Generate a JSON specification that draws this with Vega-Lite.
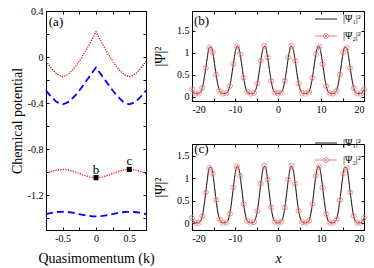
{
"$schema":"https://vega.github.io/schema/vega-lite/v6.json",
"autosize":{"type":"pad"},
"padding":{"left":9,"top":5,"right":0,"bottom":0},
"background":"white",
"config":{
 "font":"Liberation Serif",
 "view":{"stroke":"black","strokeWidth":1},
 "axis":{"grid":false,"domainColor":"black","domainWidth":1,"tickColor":"black","tickWidth":1,"tickSize":-3,"labelPadding":6,"labelColor":"black","labelFontSize":10,"labelFont":"Liberation Serif","titleFont":"Liberation Serif","titleFontSize":14,"titleFontWeight":"normal","titleColor":"black"},
 "legend":{"labelFont":"Liberation Serif","labelFontSize":10,"labelColor":"black"},
 "text":{"font":"Liberation Serif","color":"black"}
},
"datasets":{
"bands":[
{"k":-0.75,"mu":-0.035,"band":"r1"},{"k":-0.7,"mu":-0.075,"band":"r1"},{"k":-0.65,"mu":-0.11,"band":"r1"},{"k":-0.6,"mu":-0.14,"band":"r1"},{"k":-0.55,"mu":-0.16,"band":"r1"},{"k":-0.5,"mu":-0.17,"band":"r1"},{"k":-0.45,"mu":-0.16,"band":"r1"},{"k":-0.4,"mu":-0.14,"band":"r1"},{"k":-0.35,"mu":-0.11,"band":"r1"},{"k":-0.3,"mu":-0.075,"band":"r1"},{"k":-0.25,"mu":-0.035,"band":"r1"},{"k":-0.2,"mu":0.01,"band":"r1"},{"k":-0.15,"mu":0.06,"band":"r1"},{"k":-0.1,"mu":0.11,"band":"r1"},{"k":-0.05,"mu":0.165,"band":"r1"},{"k":0,"mu":0.22,"band":"r1"},{"k":0.05,"mu":0.165,"band":"r1"},{"k":0.1,"mu":0.11,"band":"r1"},{"k":0.15,"mu":0.06,"band":"r1"},{"k":0.2,"mu":0.01,"band":"r1"},{"k":0.25,"mu":-0.035,"band":"r1"},{"k":0.3,"mu":-0.075,"band":"r1"},{"k":0.35,"mu":-0.11,"band":"r1"},{"k":0.4,"mu":-0.14,"band":"r1"},{"k":0.45,"mu":-0.16,"band":"r1"},{"k":0.5,"mu":-0.17,"band":"r1"},{"k":0.55,"mu":-0.16,"band":"r1"},{"k":0.6,"mu":-0.14,"band":"r1"},{"k":0.65,"mu":-0.11,"band":"r1"},{"k":0.7,"mu":-0.075,"band":"r1"},{"k":0.75,"mu":-0.035,"band":"r1"},
{"k":-0.75,"mu":-0.29,"band":"b1"},{"k":-0.7,"mu":-0.325,"band":"b1"},{"k":-0.65,"mu":-0.355,"band":"b1"},{"k":-0.6,"mu":-0.385,"band":"b1"},{"k":-0.55,"mu":-0.4,"band":"b1"},{"k":-0.5,"mu":-0.41,"band":"b1"},{"k":-0.45,"mu":-0.4,"band":"b1"},{"k":-0.4,"mu":-0.385,"band":"b1"},{"k":-0.35,"mu":-0.355,"band":"b1"},{"k":-0.3,"mu":-0.325,"band":"b1"},{"k":-0.25,"mu":-0.29,"band":"b1"},{"k":-0.2,"mu":-0.25,"band":"b1"},{"k":-0.15,"mu":-0.21,"band":"b1"},{"k":-0.1,"mu":-0.17,"band":"b1"},{"k":-0.05,"mu":-0.13,"band":"b1"},{"k":0,"mu":-0.09,"band":"b1"},{"k":0.05,"mu":-0.13,"band":"b1"},{"k":0.1,"mu":-0.17,"band":"b1"},{"k":0.15,"mu":-0.21,"band":"b1"},{"k":0.2,"mu":-0.25,"band":"b1"},{"k":0.25,"mu":-0.29,"band":"b1"},{"k":0.3,"mu":-0.325,"band":"b1"},{"k":0.35,"mu":-0.355,"band":"b1"},{"k":0.4,"mu":-0.385,"band":"b1"},{"k":0.45,"mu":-0.4,"band":"b1"},{"k":0.5,"mu":-0.41,"band":"b1"},{"k":0.55,"mu":-0.4,"band":"b1"},{"k":0.6,"mu":-0.385,"band":"b1"},{"k":0.65,"mu":-0.355,"band":"b1"},{"k":0.7,"mu":-0.325,"band":"b1"},{"k":0.75,"mu":-0.29,"band":"b1"},
{"k":-0.75,"mu":-1.01,"band":"r2"},{"k":-0.7,"mu":-0.999,"band":"r2"},{"k":-0.65,"mu":-0.989,"band":"r2"},{"k":-0.6,"mu":-0.981,"band":"r2"},{"k":-0.55,"mu":-0.976,"band":"r2"},{"k":-0.5,"mu":-0.974,"band":"r2"},{"k":-0.45,"mu":-0.976,"band":"r2"},{"k":-0.4,"mu":-0.981,"band":"r2"},{"k":-0.35,"mu":-0.989,"band":"r2"},{"k":-0.3,"mu":-0.999,"band":"r2"},{"k":-0.25,"mu":-1.01,"band":"r2"},{"k":-0.2,"mu":-1.021,"band":"r2"},{"k":-0.15,"mu":-1.031,"band":"r2"},{"k":-0.1,"mu":-1.039,"band":"r2"},{"k":-0.05,"mu":-1.044,"band":"r2"},{"k":0,"mu":-1.046,"band":"r2"},{"k":0.05,"mu":-1.044,"band":"r2"},{"k":0.1,"mu":-1.039,"band":"r2"},{"k":0.15,"mu":-1.031,"band":"r2"},{"k":0.2,"mu":-1.021,"band":"r2"},{"k":0.25,"mu":-1.01,"band":"r2"},{"k":0.3,"mu":-0.999,"band":"r2"},{"k":0.35,"mu":-0.989,"band":"r2"},{"k":0.4,"mu":-0.981,"band":"r2"},{"k":0.45,"mu":-0.976,"band":"r2"},{"k":0.5,"mu":-0.974,"band":"r2"},{"k":0.55,"mu":-0.976,"band":"r2"},{"k":0.6,"mu":-0.981,"band":"r2"},{"k":0.65,"mu":-0.989,"band":"r2"},{"k":0.7,"mu":-0.999,"band":"r2"},{"k":0.75,"mu":-1.01,"band":"r2"},
{"k":-0.75,"mu":-1.362,"band":"b2"},{"k":-0.7,"mu":-1.356,"band":"b2"},{"k":-0.65,"mu":-1.35,"band":"b2"},{"k":-0.6,"mu":-1.346,"band":"b2"},{"k":-0.55,"mu":-1.343,"band":"b2"},{"k":-0.5,"mu":-1.342,"band":"b2"},{"k":-0.45,"mu":-1.343,"band":"b2"},{"k":-0.4,"mu":-1.346,"band":"b2"},{"k":-0.35,"mu":-1.35,"band":"b2"},{"k":-0.3,"mu":-1.356,"band":"b2"},{"k":-0.25,"mu":-1.362,"band":"b2"},{"k":-0.2,"mu":-1.368,"band":"b2"},{"k":-0.15,"mu":-1.374,"band":"b2"},{"k":-0.1,"mu":-1.378,"band":"b2"},{"k":-0.05,"mu":-1.381,"band":"b2"},{"k":0,"mu":-1.382,"band":"b2"},{"k":0.05,"mu":-1.381,"band":"b2"},{"k":0.1,"mu":-1.378,"band":"b2"},{"k":0.15,"mu":-1.374,"band":"b2"},{"k":0.2,"mu":-1.368,"band":"b2"},{"k":0.25,"mu":-1.362,"band":"b2"},{"k":0.3,"mu":-1.356,"band":"b2"},{"k":0.35,"mu":-1.35,"band":"b2"},{"k":0.4,"mu":-1.346,"band":"b2"},{"k":0.45,"mu":-1.343,"band":"b2"},{"k":0.5,"mu":-1.342,"band":"b2"},{"k":0.55,"mu":-1.343,"band":"b2"},{"k":0.6,"mu":-1.346,"band":"b2"},{"k":0.65,"mu":-1.35,"band":"b2"},{"k":0.7,"mu":-1.356,"band":"b2"},{"k":0.75,"mu":-1.362,"band":"b2"}
],
"pts":[{"k":0,"mu":-1.046,"t":"b"},{"k":0.5,"mu":-0.974,"t":"c"}],
"psi":[
{"p":"b","s":"psi1","x":-20,"y":0.165},{"p":"b","s":"psi1","x":-19.5,"y":0.077},{"p":"b","s":"psi1","x":-19,"y":0.07},{"p":"b","s":"psi1","x":-18.5,"y":0.071},{"p":"b","s":"psi1","x":-18,"y":0.101},{"p":"b","s":"psi1","x":-17.5,"y":0.238},{"p":"b","s":"psi1","x":-17,"y":0.513},{"p":"b","s":"psi1","x":-16.5,"y":0.86},{"p":"b","s":"psi1","x":-16,"y":1.114},{"p":"b","s":"psi1","x":-15.5,"y":1.129},{"p":"b","s":"psi1","x":-15,"y":0.914},{"p":"b","s":"psi1","x":-14.5,"y":0.57},{"p":"b","s":"psi1","x":-14,"y":0.273},{"p":"b","s":"psi1","x":-13.5,"y":0.115},{"p":"b","s":"psi1","x":-13,"y":0.072},{"p":"b","s":"psi1","x":-12.5,"y":0.07},{"p":"b","s":"psi1","x":-12,"y":0.077},{"p":"b","s":"psi1","x":-11.5,"y":0.143},{"p":"b","s":"psi1","x":-11,"y":0.34},{"p":"b","s":"psi1","x":-10.5,"y":0.663},{"p":"b","s":"psi1","x":-10,"y":0.992},{"p":"b","s":"psi1","x":-9.5,"y":1.157},{"p":"b","s":"psi1","x":-9,"y":1.065},{"p":"b","s":"psi1","x":-8.5,"y":0.769},{"p":"b","s":"psi1","x":-8,"y":0.428},{"p":"b","s":"psi1","x":-7.5,"y":0.186},{"p":"b","s":"psi1","x":-7,"y":0.087},{"p":"b","s":"psi1","x":-6.5,"y":0.07},{"p":"b","s":"psi1","x":-6,"y":0.07},{"p":"b","s":"psi1","x":-5.5,"y":0.093},{"p":"b","s":"psi1","x":-5,"y":0.21},{"p":"b","s":"psi1","x":-4.5,"y":0.469},{"p":"b","s":"psi1","x":-4,"y":0.815},{"p":"b","s":"psi1","x":-3.5,"y":1.092},{"p":"b","s":"psi1","x":-3,"y":1.149},{"p":"b","s":"psi1","x":-2.5,"y":0.954},{"p":"b","s":"psi1","x":-2,"y":0.616},{"p":"b","s":"psi1","x":-1.5,"y":0.305},{"p":"b","s":"psi1","x":-1,"y":0.128},{"p":"b","s":"psi1","x":-0.5,"y":0.074},{"p":"b","s":"psi1","x":0,"y":0.07},{"p":"b","s":"psi1","x":0.5,"y":0.074},{"p":"b","s":"psi1","x":1,"y":0.128},{"p":"b","s":"psi1","x":1.5,"y":0.305},{"p":"b","s":"psi1","x":2,"y":0.616},{"p":"b","s":"psi1","x":2.5,"y":0.954},{"p":"b","s":"psi1","x":3,"y":1.149},{"p":"b","s":"psi1","x":3.5,"y":1.092},{"p":"b","s":"psi1","x":4,"y":0.815},{"p":"b","s":"psi1","x":4.5,"y":0.469},{"p":"b","s":"psi1","x":5,"y":0.21},{"p":"b","s":"psi1","x":5.5,"y":0.093},{"p":"b","s":"psi1","x":6,"y":0.07},{"p":"b","s":"psi1","x":6.5,"y":0.07},{"p":"b","s":"psi1","x":7,"y":0.087},{"p":"b","s":"psi1","x":7.5,"y":0.186},{"p":"b","s":"psi1","x":8,"y":0.428},{"p":"b","s":"psi1","x":8.5,"y":0.769},{"p":"b","s":"psi1","x":9,"y":1.065},{"p":"b","s":"psi1","x":9.5,"y":1.157},{"p":"b","s":"psi1","x":10,"y":0.992},{"p":"b","s":"psi1","x":10.5,"y":0.663},{"p":"b","s":"psi1","x":11,"y":0.34},{"p":"b","s":"psi1","x":11.5,"y":0.143},{"p":"b","s":"psi1","x":12,"y":0.077},{"p":"b","s":"psi1","x":12.5,"y":0.07},{"p":"b","s":"psi1","x":13,"y":0.072},{"p":"b","s":"psi1","x":13.5,"y":0.115},{"p":"b","s":"psi1","x":14,"y":0.273},{"p":"b","s":"psi1","x":14.5,"y":0.57},{"p":"b","s":"psi1","x":15,"y":0.914},{"p":"b","s":"psi1","x":15.5,"y":1.129},{"p":"b","s":"psi1","x":16,"y":1.114},{"p":"b","s":"psi1","x":16.5,"y":0.86},{"p":"b","s":"psi1","x":17,"y":0.513},{"p":"b","s":"psi1","x":17.5,"y":0.238},{"p":"b","s":"psi1","x":18,"y":0.101},{"p":"b","s":"psi1","x":18.5,"y":0.071},{"p":"b","s":"psi1","x":19,"y":0.07},{"p":"b","s":"psi1","x":19.5,"y":0.077},{"p":"b","s":"psi1","x":20,"y":0.165},
{"p":"b","s":"psi2","x":-20,"y":0.165},{"p":"b","s":"psi2","x":-19.2,"y":0.071},{"p":"b","s":"psi2","x":-18.4,"y":0.072},{"p":"b","s":"psi2","x":-17.6,"y":0.199},{"p":"b","s":"psi2","x":-16.8,"y":0.649},{"p":"b","s":"psi2","x":-16,"y":1.114},{"p":"b","s":"psi2","x":-15.2,"y":1.01},{"p":"b","s":"psi2","x":-14.4,"y":0.503},{"p":"b","s":"psi2","x":-13.6,"y":0.134},{"p":"b","s":"psi2","x":-12.8,"y":0.07},{"p":"b","s":"psi2","x":-12,"y":0.077},{"p":"b","s":"psi2","x":-11.2,"y":0.242},{"p":"b","s":"psi2","x":-10.4,"y":0.742},{"p":"b","s":"psi2","x":-9.6,"y":1.143},{"p":"b","s":"psi2","x":-8.8,"y":0.964},{"p":"b","s":"psi2","x":-8,"y":0.428},{"p":"b","s":"psi2","x":-7.2,"y":0.112},{"p":"b","s":"psi2","x":-6.4,"y":0.07},{"p":"b","s":"psi2","x":-5.6,"y":0.084},{"p":"b","s":"psi2","x":-4.8,"y":0.297},{"p":"b","s":"psi2","x":-4,"y":0.815},{"p":"b","s":"psi2","x":-3.2,"y":1.158},{"p":"b","s":"psi2","x":-2.4,"y":0.893},{"p":"b","s":"psi2","x":-1.6,"y":0.359},{"p":"b","s":"psi2","x":-0.8,"y":0.095},{"p":"b","s":"psi2","x":0,"y":0.07},{"p":"b","s":"psi2","x":0.8,"y":0.095},{"p":"b","s":"psi2","x":1.6,"y":0.359},{"p":"b","s":"psi2","x":2.4,"y":0.893},{"p":"b","s":"psi2","x":3.2,"y":1.158},{"p":"b","s":"psi2","x":4,"y":0.815},{"p":"b","s":"psi2","x":4.8,"y":0.297},{"p":"b","s":"psi2","x":5.6,"y":0.084},{"p":"b","s":"psi2","x":6.4,"y":0.07},{"p":"b","s":"psi2","x":7.2,"y":0.112},{"p":"b","s":"psi2","x":8,"y":0.428},{"p":"b","s":"psi2","x":8.8,"y":0.964},{"p":"b","s":"psi2","x":9.6,"y":1.143},{"p":"b","s":"psi2","x":10.4,"y":0.742},{"p":"b","s":"psi2","x":11.2,"y":0.242},{"p":"b","s":"psi2","x":12,"y":0.077},{"p":"b","s":"psi2","x":12.8,"y":0.07},{"p":"b","s":"psi2","x":13.6,"y":0.134},{"p":"b","s":"psi2","x":14.4,"y":0.503},{"p":"b","s":"psi2","x":15.2,"y":1.01},{"p":"b","s":"psi2","x":16,"y":1.114},{"p":"b","s":"psi2","x":16.8,"y":0.649},{"p":"b","s":"psi2","x":17.6,"y":0.199},{"p":"b","s":"psi2","x":18.4,"y":0.072},{"p":"b","s":"psi2","x":19.2,"y":0.071},{"p":"b","s":"psi2","x":20,"y":0.165},
{"p":"c","s":"psi1","x":-20,"y":0.121},{"p":"c","s":"psi1","x":-19.5,"y":0.019},{"p":"c","s":"psi1","x":-19,"y":0.01},{"p":"c","s":"psi1","x":-18.5,"y":0.011},{"p":"c","s":"psi1","x":-18,"y":0.047},{"p":"c","s":"psi1","x":-17.5,"y":0.206},{"p":"c","s":"psi1","x":-17,"y":0.526},{"p":"c","s":"psi1","x":-16.5,"y":0.93},{"p":"c","s":"psi1","x":-16,"y":1.227},{"p":"c","s":"psi1","x":-15.5,"y":1.244},{"p":"c","s":"psi1","x":-15,"y":0.993},{"p":"c","s":"psi1","x":-14.5,"y":0.593},{"p":"c","s":"psi1","x":-14,"y":0.247},{"p":"c","s":"psi1","x":-13.5,"y":0.062},{"p":"c","s":"psi1","x":-13,"y":0.013},{"p":"c","s":"psi1","x":-12.5,"y":0.01},{"p":"c","s":"psi1","x":-12,"y":0.018},{"p":"c","s":"psi1","x":-11.5,"y":0.095},{"p":"c","s":"psi1","x":-11,"y":0.325},{"p":"c","s":"psi1","x":-10.5,"y":0.701},{"p":"c","s":"psi1","x":-10,"y":1.084},{"p":"c","s":"psi1","x":-9.5,"y":1.276},{"p":"c","s":"psi1","x":-9,"y":1.17},{"p":"c","s":"psi1","x":-8.5,"y":0.825},{"p":"c","s":"psi1","x":-8,"y":0.427},{"p":"c","s":"psi1","x":-7.5,"y":0.146},{"p":"c","s":"psi1","x":-7,"y":0.029},{"p":"c","s":"psi1","x":-6.5,"y":0.01},{"p":"c","s":"psi1","x":-6,"y":0.011},{"p":"c","s":"psi1","x":-5.5,"y":0.037},{"p":"c","s":"psi1","x":-5,"y":0.173},{"p":"c","s":"psi1","x":-4.5,"y":0.475},{"p":"c","s":"psi1","x":-4,"y":0.878},{"p":"c","s":"psi1","x":-3.5,"y":1.201},{"p":"c","s":"psi1","x":-3,"y":1.267},{"p":"c","s":"psi1","x":-2.5,"y":1.04},{"p":"c","s":"psi1","x":-2,"y":0.647},{"p":"c","s":"psi1","x":-1.5,"y":0.284},{"p":"c","s":"psi1","x":-1,"y":0.077},{"p":"c","s":"psi1","x":-0.5,"y":0.015},{"p":"c","s":"psi1","x":0,"y":0.01},{"p":"c","s":"psi1","x":0.5,"y":0.015},{"p":"c","s":"psi1","x":1,"y":0.077},{"p":"c","s":"psi1","x":1.5,"y":0.284},{"p":"c","s":"psi1","x":2,"y":0.647},{"p":"c","s":"psi1","x":2.5,"y":1.04},{"p":"c","s":"psi1","x":3,"y":1.267},{"p":"c","s":"psi1","x":3.5,"y":1.201},{"p":"c","s":"psi1","x":4,"y":0.878},{"p":"c","s":"psi1","x":4.5,"y":0.475},{"p":"c","s":"psi1","x":5,"y":0.173},{"p":"c","s":"psi1","x":5.5,"y":0.037},{"p":"c","s":"psi1","x":6,"y":0.011},{"p":"c","s":"psi1","x":6.5,"y":0.01},{"p":"c","s":"psi1","x":7,"y":0.029},{"p":"c","s":"psi1","x":7.5,"y":0.146},{"p":"c","s":"psi1","x":8,"y":0.427},{"p":"c","s":"psi1","x":8.5,"y":0.825},{"p":"c","s":"psi1","x":9,"y":1.17},{"p":"c","s":"psi1","x":9.5,"y":1.276},{"p":"c","s":"psi1","x":10,"y":1.084},{"p":"c","s":"psi1","x":10.5,"y":0.701},{"p":"c","s":"psi1","x":11,"y":0.325},{"p":"c","s":"psi1","x":11.5,"y":0.095},{"p":"c","s":"psi1","x":12,"y":0.018},{"p":"c","s":"psi1","x":12.5,"y":0.01},{"p":"c","s":"psi1","x":13,"y":0.013},{"p":"c","s":"psi1","x":13.5,"y":0.062},{"p":"c","s":"psi1","x":14,"y":0.247},{"p":"c","s":"psi1","x":14.5,"y":0.593},{"p":"c","s":"psi1","x":15,"y":0.993},{"p":"c","s":"psi1","x":15.5,"y":1.244},{"p":"c","s":"psi1","x":16,"y":1.227},{"p":"c","s":"psi1","x":16.5,"y":0.93},{"p":"c","s":"psi1","x":17,"y":0.526},{"p":"c","s":"psi1","x":17.5,"y":0.206},{"p":"c","s":"psi1","x":18,"y":0.047},{"p":"c","s":"psi1","x":18.5,"y":0.011},{"p":"c","s":"psi1","x":19,"y":0.01},{"p":"c","s":"psi1","x":19.5,"y":0.019},{"p":"c","s":"psi1","x":20,"y":0.121},
{"p":"c","s":"psi2","x":-20,"y":0.121},{"p":"c","s":"psi2","x":-19.2,"y":0.011},{"p":"c","s":"psi2","x":-18.4,"y":0.012},{"p":"c","s":"psi2","x":-17.6,"y":0.16},{"p":"c","s":"psi2","x":-16.8,"y":0.684},{"p":"c","s":"psi2","x":-16,"y":1.227},{"p":"c","s":"psi2","x":-15.2,"y":1.105},{"p":"c","s":"psi2","x":-14.4,"y":0.514},{"p":"c","s":"psi2","x":-13.6,"y":0.084},{"p":"c","s":"psi2","x":-12.8,"y":0.01},{"p":"c","s":"psi2","x":-12,"y":0.018},{"p":"c","s":"psi2","x":-11.2,"y":0.21},{"p":"c","s":"psi2","x":-10.4,"y":0.793},{"p":"c","s":"psi2","x":-9.6,"y":1.261},{"p":"c","s":"psi2","x":-8.8,"y":1.052},{"p":"c","s":"psi2","x":-8,"y":0.427},{"p":"c","s":"psi2","x":-7.2,"y":0.059},{"p":"c","s":"psi2","x":-6.4,"y":0.01},{"p":"c","s":"psi2","x":-5.6,"y":0.026},{"p":"c","s":"psi2","x":-4.8,"y":0.274},{"p":"c","s":"psi2","x":-4,"y":0.878},{"p":"c","s":"psi2","x":-3.2,"y":1.278},{"p":"c","s":"psi2","x":-2.4,"y":0.968},{"p":"c","s":"psi2","x":-1.6,"y":0.346},{"p":"c","s":"psi2","x":-0.8,"y":0.039},{"p":"c","s":"psi2","x":0,"y":0.01},{"p":"c","s":"psi2","x":0.8,"y":0.039},{"p":"c","s":"psi2","x":1.6,"y":0.346},{"p":"c","s":"psi2","x":2.4,"y":0.968},{"p":"c","s":"psi2","x":3.2,"y":1.278},{"p":"c","s":"psi2","x":4,"y":0.878},{"p":"c","s":"psi2","x":4.8,"y":0.274},{"p":"c","s":"psi2","x":5.6,"y":0.026},{"p":"c","s":"psi2","x":6.4,"y":0.01},{"p":"c","s":"psi2","x":7.2,"y":0.059},{"p":"c","s":"psi2","x":8,"y":0.427},{"p":"c","s":"psi2","x":8.8,"y":1.052},{"p":"c","s":"psi2","x":9.6,"y":1.261},{"p":"c","s":"psi2","x":10.4,"y":0.793},{"p":"c","s":"psi2","x":11.2,"y":0.21},{"p":"c","s":"psi2","x":12,"y":0.018},{"p":"c","s":"psi2","x":12.8,"y":0.01},{"p":"c","s":"psi2","x":13.6,"y":0.084},{"p":"c","s":"psi2","x":14.4,"y":0.514},{"p":"c","s":"psi2","x":15.2,"y":1.105},{"p":"c","s":"psi2","x":16,"y":1.227},{"p":"c","s":"psi2","x":16.8,"y":0.684},{"p":"c","s":"psi2","x":17.6,"y":0.16},{"p":"c","s":"psi2","x":18.4,"y":0.012},{"p":"c","s":"psi2","x":19.2,"y":0.011},{"p":"c","s":"psi2","x":20,"y":0.121}
]
},
"bounds":"flush",
"spacing":46,
"hconcat":[
{
 "width":100,"height":219,
 "layer":[
  {"data":{"name":"bands"},"transform":[{"filter":"datum.band=='r1'||datum.band=='r2'"}],
   "mark":{"type":"line","color":"#ff0000","strokeWidth":1.3,"strokeDash":[1.2,1.3]},
   "encoding":{
    "x":{"field":"k","type":"quantitative","scale":{"domain":[-0.75,0.75],"nice":false,"zero":false},"axis":{"values":[-0.5,-0.25,0,0.25,0.5],"labelExpr":"abs(round(datum.value*4))%2==0 ? replace(format(datum.value,'~g'),'−','-') : ''","title":"Quasimomentum (k)","titlePadding":8}},
    "y":{"field":"mu","type":"quantitative","scale":{"domain":[-1.5,0.4],"nice":false,"zero":false},"axis":{"values":[-1.4,-1.2,-1,-0.8,-0.6,-0.4,-0.2,0,0.2,0.4],"labelExpr":"abs(round(datum.value*10))%4==0 ? replace(format(datum.value,'~g'),'−','-') : ''","title":"Chemical potential","titlePadding":3}},
    "detail":{"field":"band"}}},
  {"data":{"name":"bands"},"transform":[{"filter":"datum.band=='b1'||datum.band=='b2'"}],
   "mark":{"type":"line","color":"#0000ff","strokeWidth":1.8,"strokeDash":[7,4]},
   "encoding":{
    "x":{"field":"k","type":"quantitative","scale":{"domain":[-0.75,0.75],"nice":false,"zero":false},"axis":{"orient":"top","values":[-0.5,-0.25,0,0.25,0.5],"labels":false,"title":null,"domain":false}},
    "y":{"field":"mu","type":"quantitative","scale":{"domain":[-1.5,0.4],"nice":false,"zero":false},"axis":{"orient":"right","values":[-1.4,-1.2,-1,-0.8,-0.6,-0.4,-0.2,0,0.2,0.4],"labels":false,"title":null,"domain":false}},
    "detail":{"field":"band"}}},
  {"data":{"name":"pts"},
   "mark":{"type":"point","shape":"square","filled":true,"color":"black","size":26,"opacity":1},
   "encoding":{
    "x":{"field":"k","type":"quantitative","scale":{"domain":[-0.75,0.75],"nice":false,"zero":false},"axis":null},
    "y":{"field":"mu","type":"quantitative","scale":{"domain":[-1.5,0.4],"nice":false,"zero":false},"axis":null}}},
  {"data":{"name":"pts"},
   "mark":{"type":"text","dy":-8,"fontSize":13},
   "encoding":{
    "x":{"field":"k","type":"quantitative","scale":{"domain":[-0.75,0.75],"nice":false,"zero":false},"axis":null},
    "y":{"field":"mu","type":"quantitative","scale":{"domain":[-1.5,0.4],"nice":false,"zero":false},"axis":null},
    "text":{"field":"t"}}},
  {"data":{"values":[{"k":-0.6,"mu":0.305,"t":"(a)"}]},
   "mark":{"type":"text","fontSize":13},
   "encoding":{
    "x":{"field":"k","type":"quantitative","scale":{"domain":[-0.75,0.75],"nice":false,"zero":false},"axis":null},
    "y":{"field":"mu","type":"quantitative","scale":{"domain":[-1.5,0.4],"nice":false,"zero":false},"axis":null},
    "text":{"field":"t"}}}
 ],
 "resolve":{"axis":{"x":"independent","y":"independent"}}
},
{
 "vconcat":[
 {
  "width":172,"height":90,
  "layer":[
   {"data":{"name":"psi"},"transform":[{"filter":"datum.p=='b'&&datum.s=='psi2'"}],
    "mark":{"type":"line","color":"#f6c4c4","strokeWidth":0.8},
    "encoding":{
     "x":{"field":"x","type":"quantitative","scale":{"domain":[-20,20],"nice":false,"zero":false},"axis":{"orient":"top","values":[-20,-15,-10,-5,0,5,10,15,20],"labels":false,"title":null,"domain":false}},
     "y":{"field":"y","type":"quantitative","scale":{"domain":[-0.1,1.95],"nice":false,"zero":false},"axis":{"orient":"right","values":[0,0.5,1,1.5],"labels":false,"title":null,"domain":false}}}},
   {"data":{"name":"psi"},"transform":[{"filter":"datum.p=='b'&&datum.s=='psi1'"}],
    "mark":{"type":"line","strokeWidth":1,"interpolate":"monotone"},
    "encoding":{
     "x":{"field":"x","type":"quantitative","scale":{"domain":[-20,20],"nice":false,"zero":false},"axis":{"values":[-20,-15,-10,-5,0,5,10,15,20],"labelExpr":"datum.value%10==0 ? replace(format(datum.value,'d'),'−','-') : ''","title":null}},
     "y":{"field":"y","type":"quantitative","scale":{"domain":[-0.1,1.95],"nice":false,"zero":false},"axis":{"values":[0,0.5,1,1.5],"labelExpr":"replace(format(datum.value,'~g'),'−','-')","title":"|Ψ|²","titlePadding":9}},
     "color":{"field":"s","type":"nominal","scale":{"domain":["psi1","psi2"],"range":["#1a1a1a","#f08080"]},
      "legend":{"orient":"none","legendX":128,"legendY":2,"title":null,"symbolSize":121,"labelOffset":11,"rowPadding":6,"padding":0,"labelFontSize":10,"symbolStrokeWidth":1,
       "labelExpr":"datum.value=='psi1' ? '|Ψ₁|²' : '|Ψ₂|²'",
       "encode":{"symbols":{"update":{"shape":{"signal":"datum.value=='psi1' ? 'M-2,0H2' : 'M-2,0H-0.45M0.45,0H2M-0.45,0A0.45,0.45 0 1,1 0.45,0A0.45,0.45 0 1,1 -0.45,0M-0.32,-0.32L0.32,0.32M-0.32,0.32L0.32,-0.32'"},"fill":{"value":"transparent"}}}}}}}},
   {"data":{"name":"psi"},"transform":[{"filter":"datum.p=='b'&&datum.s=='psi2'"}],
    "mark":{"type":"point","shape":"M-1,0A1,1 0 1,1 1,0A1,1 0 1,1 -1,0M-0.7,-0.7L0.7,0.7M-0.7,0.7L0.7,-0.7","size":27,"filled":false,"color":"#f08585","strokeWidth":0.8,"opacity":1},
    "encoding":{
     "x":{"field":"x","type":"quantitative","scale":{"domain":[-20,20],"nice":false,"zero":false},"axis":null},
     "y":{"field":"y","type":"quantitative","scale":{"domain":[-0.1,1.95],"nice":false,"zero":false},"axis":null}}},
   {"data":{"values":[{"x":-17.8,"y":1.72,"t":"(b)"}]},
    "mark":{"type":"text","fontSize":13},
    "encoding":{
     "x":{"field":"x","type":"quantitative","scale":{"domain":[-20,20],"nice":false,"zero":false},"axis":null},
     "y":{"field":"y","type":"quantitative","scale":{"domain":[-0.1,1.95],"nice":false,"zero":false},"axis":null},
     "text":{"field":"t"}}}
  ],
  "resolve":{"axis":{"x":"independent","y":"independent"}}
 },
 {
  "width":172,"height":86,
  "layer":[
   {"data":{"name":"psi"},"transform":[{"filter":"datum.p=='c'&&datum.s=='psi2'"}],
    "mark":{"type":"line","color":"#f6c4c4","strokeWidth":0.8},
    "encoding":{
     "x":{"field":"x","type":"quantitative","scale":{"domain":[-20,20],"nice":false,"zero":false},"axis":{"orient":"top","values":[-20,-15,-10,-5,0,5,10,15,20],"labels":false,"title":null,"domain":false}},
     "y":{"field":"y","type":"quantitative","scale":{"domain":[-0.15,1.76],"nice":false,"zero":false},"axis":{"orient":"right","values":[0,0.5,1,1.5],"labels":false,"title":null,"domain":false}}}},
   {"data":{"name":"psi"},"transform":[{"filter":"datum.p=='c'&&datum.s=='psi1'"}],
    "mark":{"type":"line","strokeWidth":1,"interpolate":"monotone"},
    "encoding":{
     "x":{"field":"x","type":"quantitative","scale":{"domain":[-20,20],"nice":false,"zero":false},"axis":{"values":[-20,-15,-10,-5,0,5,10,15,20],"labelExpr":"datum.value%10==0 ? replace(format(datum.value,'d'),'−','-') : ''","title":"x","titleFontStyle":"italic","titlePadding":8}},
     "y":{"field":"y","type":"quantitative","scale":{"domain":[-0.15,1.76],"nice":false,"zero":false},"axis":{"values":[0,0.5,1,1.5],"labelExpr":"replace(format(datum.value,'~g'),'−','-')","title":"|Ψ|²","titlePadding":9}},
     "color":{"field":"s","type":"nominal","scale":{"domain":["psi1","psi2"],"range":["#1a1a1a","#f08080"]},
      "legend":{"orient":"none","legendX":128,"legendY":-7,"title":null,"symbolSize":121,"labelOffset":11,"rowPadding":6,"padding":0,"labelFontSize":10,"symbolStrokeWidth":1,
       "labelExpr":"datum.value=='psi1' ? '|Ψ₁|²' : '|Ψ₂|²'",
       "encode":{"symbols":{"update":{"shape":{"signal":"datum.value=='psi1' ? 'M-2,0H2' : 'M-2,0H-0.45M0.45,0H2M-0.45,0A0.45,0.45 0 1,1 0.45,0A0.45,0.45 0 1,1 -0.45,0M-0.32,-0.32L0.32,0.32M-0.32,0.32L0.32,-0.32'"},"fill":{"value":"transparent"}}}}}}}},
   {"data":{"name":"psi"},"transform":[{"filter":"datum.p=='c'&&datum.s=='psi2'"}],
    "mark":{"type":"point","shape":"M-1,0A1,1 0 1,1 1,0A1,1 0 1,1 -1,0M-0.7,-0.7L0.7,0.7M-0.7,0.7L0.7,-0.7","size":27,"filled":false,"color":"#f08585","strokeWidth":0.8,"opacity":1},
    "encoding":{
     "x":{"field":"x","type":"quantitative","scale":{"domain":[-20,20],"nice":false,"zero":false},"axis":null},
     "y":{"field":"y","type":"quantitative","scale":{"domain":[-0.15,1.76],"nice":false,"zero":false},"axis":null}}},
   {"data":{"values":[{"x":-17.8,"y":1.66,"t":"(c)"}]},
    "mark":{"type":"text","fontSize":13},
    "encoding":{
     "x":{"field":"x","type":"quantitative","scale":{"domain":[-20,20],"nice":false,"zero":false},"axis":null},
     "y":{"field":"y","type":"quantitative","scale":{"domain":[-0.15,1.76],"nice":false,"zero":false},"axis":null},
     "text":{"field":"t"}}}
  ],
  "resolve":{"axis":{"x":"independent","y":"independent"}}
 }
 ],
 "spacing":43,
 "bounds":"flush",
 "resolve":{"scale":{"color":"independent"},"legend":{"color":"independent"}}
}
]
}
